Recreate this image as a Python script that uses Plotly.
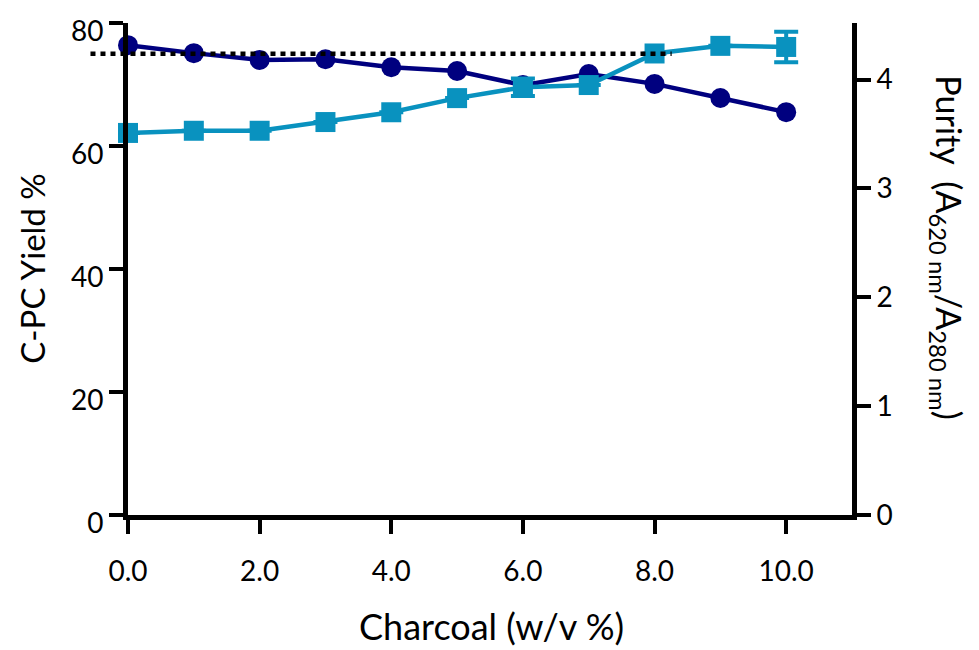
import plotly.graph_objects as go

charcoal = [0, 1, 2, 3, 4, 5, 6, 7, 8, 9, 10]
yield_pct = [76.4, 75.1, 74.0, 74.1, 72.8, 72.2, 69.9, 71.7, 70.1, 67.8, 65.5]
purity = [3.51, 3.53, 3.53, 3.61, 3.70, 3.83, 3.93, 3.95, 4.24, 4.31, 4.30]
purity_err = [0.0, 0.0, 0.0, 0.0, 0.0, 0.0, 0.08, 0.0, 0.0, 0.0, 0.14]

x_ticks = [0, 2, 4, 6, 8, 10]
x_ticklabels = ["0.0", "2.0", "4.0", "6.0", "8.0", "10.0"]
y_ticks = [0, 20, 40, 60, 80]
y2_ticks = [0, 1, 2, 3, 4]

ref_yield = 75
ref_x_start = -0.57
ref_x_end = 8.26

X_MAX = 11
Y_MAX = 80
Y2_MAX = 4.52

NAVY = "#00007f"
CYAN = "#0992bf"
FONT = "Lato"

fig = go.Figure()
fig.add_trace(go.Scatter(
    x=charcoal, y=yield_pct, mode="lines+markers",
    line=dict(color=NAVY, width=4.5),
    marker=dict(symbol="circle", size=20, color=NAVY),
    cliponaxis=False, showlegend=False,
))
fig.add_trace(go.Scatter(
    x=charcoal, y=purity, mode="lines+markers", yaxis="y2",
    line=dict(color=CYAN, width=4.5),
    marker=dict(symbol="square", size=20, color=CYAN),
    error_y=dict(type="data", array=purity_err, color=CYAN, thickness=4, width=12),
    cliponaxis=False, showlegend=False,
))

fig.add_shape(
    type="line", xref="paper", yref="paper",
    x0=ref_x_start / X_MAX, x1=ref_x_end / X_MAX,
    y0=ref_yield / Y_MAX, y1=ref_yield / Y_MAX,
    line=dict(color="black", width=4.5, dash="5px,5px"),
)

axis_common = dict(
    showline=True, linecolor="black", linewidth=5,
    ticks="outside", ticklen=14, tickwidth=4, tickcolor="black",
    showgrid=False, zeroline=False, automargin=False,
    ticklabeloverflow="allow",
    tickfont=dict(family=FONT, size=28, color="black"),
)

fig.update_layout(
    width=971, height=642,
    margin=dict(l=119.5, r=126.5, t=15, b=135),
    plot_bgcolor="white", paper_bgcolor="white",
    font=dict(family=FONT, color="black"),
    xaxis=dict(
        range=[0, X_MAX], tickvals=x_ticks, ticktext=x_ticklabels,
        ticklabelstandoff=13,
        **axis_common,
    ),
    yaxis=dict(
        range=[0, Y_MAX], tickvals=y_ticks, ticklabelshift=8,
        **axis_common,
    ),
    yaxis2=dict(
        range=[0, Y2_MAX], tickvals=y2_ticks, overlaying="y", side="right",
        **axis_common,
    ),
)

fig.add_annotation(
    text="Charcoal (w/v %)",
    xref="paper", yref="paper", x=0.502, y=-0.226,
    xanchor="center", yanchor="middle", showarrow=False,
    font=dict(family=FONT, size=36, color="black"),
)
fig.add_annotation(
    text="C-PC Yield %",
    xref="paper", yref="paper", x=-0.133, y=0.5,
    xanchor="center", yanchor="middle", textangle=-90, showarrow=False,
    font=dict(family=FONT, size=33, color="black"),
)
fig.add_annotation(
    text="Purity  (A<sub>620 nm</sub>/A<sub>280 nm</sub>)",
    xref="paper", yref="paper", x=1.132, y=0.545,
    xanchor="center", yanchor="middle", textangle=90, showarrow=False,
    font=dict(family=FONT, size=34, color="black"),
)

fig.write_html("out.html")
